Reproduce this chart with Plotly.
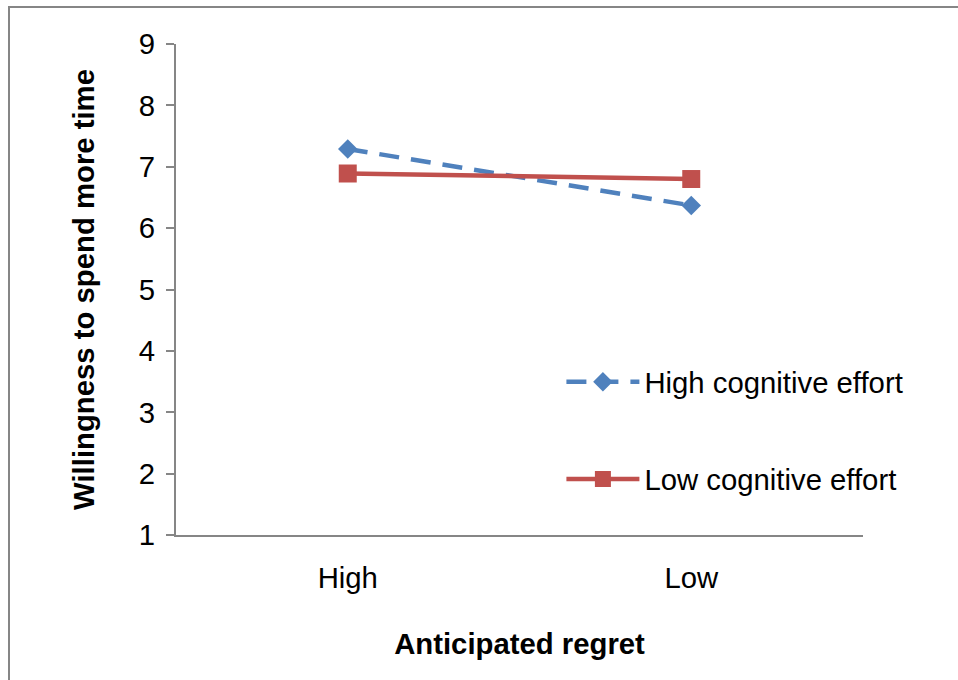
import plotly.graph_objects as go

categories = ["High", "Low"]
high_effort = [7.29, 6.37]
low_effort = [6.89, 6.80]
y_ticks = [1, 2, 3, 4, 5, 6, 7, 8, 9]

FONT = "Liberation Sans, Arial, sans-serif"
GRAY = "#868686"
FS = 29.3

fig = go.Figure()
fig.add_trace(go.Scatter(
    x=categories, y=high_effort, name="High cognitive effort",
    mode="lines+markers", legendgroup="a",
    line=dict(color="#4F81BD", width=4.5, dash="20px,12px"),
    marker=dict(symbol="diamond", size=15, color="#4F81BD"),
))
fig.add_trace(go.Scatter(
    x=categories, y=low_effort, name="Low cognitive effort",
    mode="lines+markers", legendgroup="b",
    line=dict(color="#C0504D", width=4.5),
    marker=dict(symbol="square", size=18, color="#C0504D"),
))

fig.update_layout(
    width=958, height=680,
    margin=dict(l=176, r=95, t=44, b=145),
    paper_bgcolor="white", plot_bgcolor="white",
    font=dict(family=FONT, size=FS, color="black"),
    showlegend=True,
    legend=dict(
        x=0.561, y=0.364, xanchor="left", yanchor="top",
        font=dict(size=FS), tracegroupgap=56, itemwidth=73,
        bgcolor="rgba(0,0,0,0)",
    ),
    xaxis=dict(
        type="category", range=[-0.5, 1.5],
        showline=True, linecolor=GRAY, linewidth=2,
        ticks="", showgrid=False, zeroline=False,
        ticklabelstandoff=16,
        title=dict(text="<b>Anticipated regret</b>", font=dict(size=FS), standoff=40),
    ),
    yaxis=dict(
        range=[1, 9], tickvals=y_ticks,
        showline=True, linecolor=GRAY, linewidth=2,
        ticks="outside", ticklen=8, tickcolor=GRAY, tickwidth=2,
        ticklabelstandoff=5,
        showgrid=False, zeroline=False,
        title=dict(text="<b>Willingness to spend more time</b>", font=dict(size=FS), standoff=36),
    ),
    shapes=[dict(
        type="rect", xref="paper", yref="paper",
        x0=(9 - 176) / 687, x1=1.3, y0=-0.5, y1=(535 - 7) / 491,
        line=dict(color=GRAY, width=2), fillcolor="rgba(0,0,0,0)", layer="below",
    )],
)

fig.write_html("out.html")
